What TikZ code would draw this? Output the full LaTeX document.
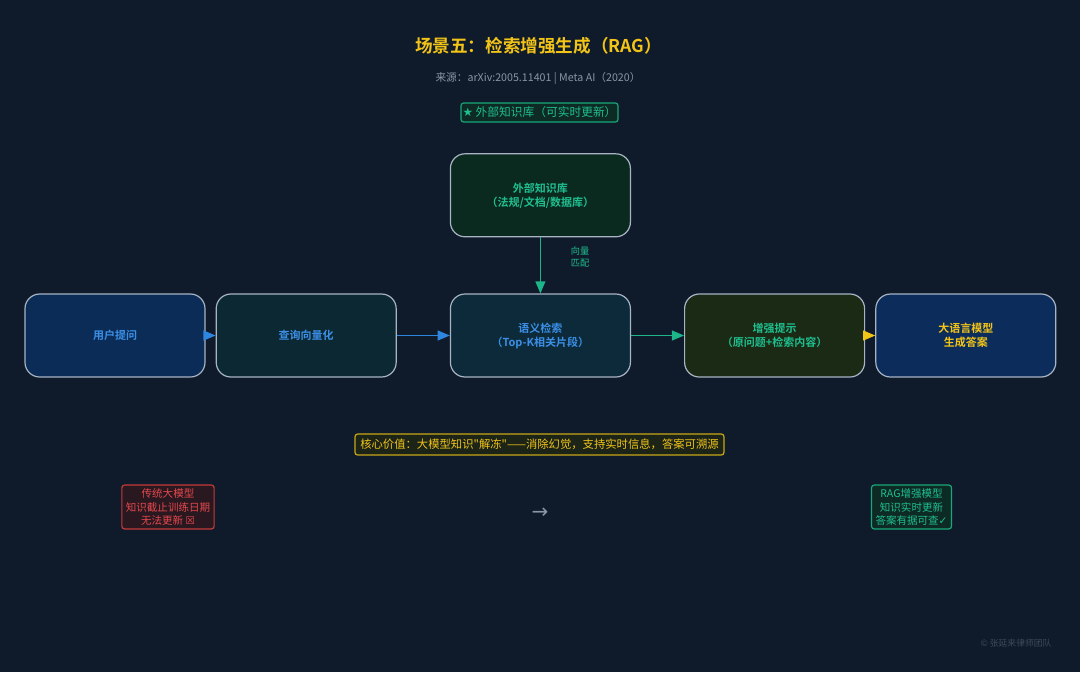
\documentclass[tikz,border=0pt]{standalone}
\usepackage{fontspec}
\setmainfont{Noto Sans CJK SC}[BoldFont={Noto Sans CJK SC Bold}]
\newfontfamily\symfont{DejaVu Sans}
\usepackage[rgb]{xcolor}
\definecolor{pageBg}{HTML}{0F1A2A}
\definecolor{boxBorder}{HTML}{A8B4C4}
\definecolor{userFill}{HTML}{0B2C57}
\definecolor{vecFill}{HTML}{0C2833}
\definecolor{kbFill}{HTML}{0B2A1F}
\definecolor{searchFill}{HTML}{0C2A3A}
\definecolor{promptFill}{HTML}{1A2A14}
\definecolor{llmFill}{HTML}{0C2C5C}
\definecolor{blueText}{HTML}{3B8FE6}
\definecolor{greenText}{HTML}{1FBF8F}
\definecolor{yellowText}{HTML}{F2C418}
\definecolor{redText}{HTML}{E5484D}
\definecolor{redBorder}{HTML}{C43A3A}
\definecolor{redFill}{HTML}{2A1820}
\definecolor{greenBorder}{HTML}{17A877}
\definecolor{greenFill}{HTML}{0E2A24}
\definecolor{coreBorder}{HTML}{C8A818}
\definecolor{coreFill}{HTML}{1C2418}
\definecolor{grayText}{HTML}{8A96A6}
\definecolor{footText}{HTML}{3E4A5A}
\definecolor{blueArrow}{HTML}{2E86DE}
\definecolor{greenArrow}{HTML}{1DB58A}
\usepackage{tikz}
\usetikzlibrary{arrows}
\usetikzlibrary{positioning}
\tikzstyle{flowbox} = [rectangle, rounded corners=11pt, draw=boxBorder, line width=0.9pt, minimum width=135pt, minimum height=62.25pt, font=\bfseries\fontsize{8.25}{10.5}\selectfont]
\tikzstyle{tagbox} = [rectangle, rounded corners=2pt, line width=0.9pt, inner sep=3pt, font=\fontsize{7.9}{9.8}\selectfont]
\tikzstyle{flow} = [line width=1.1pt, -triangle 45]

\begin{document}
\begin{tikzpicture}[
            x=0.75pt, y=-0.75pt,
            every node/.style={align=center}
        ]
            \fill [pageBg] (0,0) rectangle (1080,672);
            \useasboundingbox (0,0) rectangle (1080,672);
            % heading
            \node [text=yellowText, font=\bfseries\fontsize{13.2}{16}\selectfont] (title) at (538.5,46) {场景五：检索增强生成（RAG）};
            \node [text=grayText, font=\fontsize{8}{10}\selectfont] (source) at (538,78) {来源：arXiv:2005.11401 | Meta AI（2020）};
            \node [tagbox, draw=greenBorder, fill=greenFill, text=greenText, font=\fontsize{8.8}{10}\selectfont, minimum width=117.75pt, minimum height=14.25pt, inner sep=1pt] (badge) at (539.5,112.5) {{\symfont ★} 外部知识库（可实时更新）};
            % pipeline
            \node [flowbox, fill=userFill, text=blueText] (user) at (115,335.5) {用户提问};
            \node [flowbox, fill=vecFill, text=blueText, right=7.5pt of user] (vec) {查询向量化};
            \node [flowbox, fill=searchFill, text=blueText, right=39.75pt of vec] (search) {语义检索\\（Top-K相关片段）};
            \node [flowbox, fill=kbFill, text=greenText, above=42pt of search] (kb) {外部知识库\\（法规/文档/数据库）};
            \node [flowbox, fill=promptFill, text=greenText, right=39.75pt of search] (prompt) {增强提示\\（原问题+检索内容）};
            \node [flowbox, fill=llmFill, text=yellowText, right=7.5pt of prompt] (llm) {大语言模型\\生成答案};
            \draw [flow, blueArrow] (user) -- (vec);
            \draw [flow, blueArrow] (vec) -- (search);
            \draw [flow, greenArrow] (kb) -- node [pos=0.35, right=19pt, text=greenText, font=\fontsize{6.9}{8.3}\selectfont] (match) {向量\\匹配} (search);
            \draw [flow, greenArrow] (search) -- (prompt);
            \draw [flow, yellowText] (prompt) -- (llm);
            % summary
            \node [tagbox, draw=coreBorder, fill=coreFill, text=yellowText, font=\fontsize{8.5}{10}\selectfont, minimum width=276.75pt, minimum height=15.75pt, inner sep=2pt] (core) at (539.5,444.5) {核心价值：大模型知识\textquotedbl 解冻\textquotedbl——消除幻觉，支持实时信息，答案可溯源};
            \node [tagbox, draw=redBorder, fill=redFill, text=redText] (old) at (168,507) {传统大模型\\知识截止训练日期\\无法更新 {\symfont ☒}};
            \node [text=grayText, font=\symfont\fontsize{15}{15}\selectfont] (versus) at (540,513) {→};
            \node [tagbox, draw=greenBorder, fill=greenFill, text=greenText] (rag) at (911.5,507) {RAG增强模型\\知识实时更新\\答案有据可查{\symfont ✓}};
            \node [text=footText, font=\fontsize{6.6}{8}\selectfont] (footer) at (1016,643) {© 张延来律师团队};
        \end{tikzpicture}
\end{document}
